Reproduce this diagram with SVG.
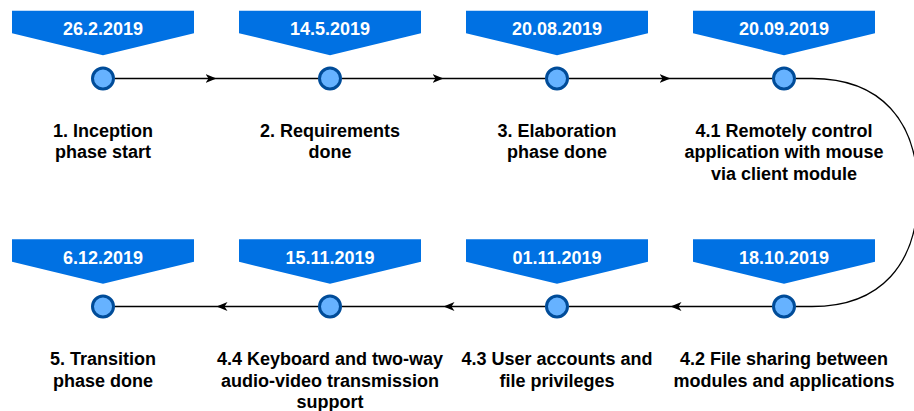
<svg xmlns="http://www.w3.org/2000/svg" width="914" height="411" viewBox="0 0 914 411">
  <defs>
    <style>
      .banner { fill: #0071E3; }
      .date { fill: #FFFFFF; font-family: "Liberation Sans", Arial, sans-serif; font-weight: bold; font-size: 18px; text-anchor: middle; }
      .dot { fill: #66B2FF; stroke: #004C99; stroke-width: 3; }
      .label { fill: #000000; font-family: "Liberation Sans", Arial, sans-serif; font-weight: bold; font-size: 18px; text-anchor: middle; }
      .edge { fill: none; stroke: #000000; stroke-width: 1.3; }
    </style>
    <marker id="arrow" markerUnits="userSpaceOnUse" markerWidth="13" markerHeight="10" refX="11" refY="4.5" orient="auto">
      <path d="M0,0 L11,4.5 L0,9 L3,4.5 Z" fill="#000000"/>
    </marker>
    <!-- milestone flag: date banner ending in a point above the dot -->
    <polygon id="flag" points="-91,0 91,0 91,22.5 0,44.5 -91,22.5"/>
  </defs>

  <g id="connectors">
    <path class="edge" d="M115,78.5 L216.5,78.5 L318,78.5" marker-mid="url(#arrow)"/>
    <path class="edge" d="M342,78.5 L443.5,78.5 L545,78.5" marker-mid="url(#arrow)"/>
    <path class="edge" d="M569,78.5 L670.5,78.5 L772,78.5" marker-mid="url(#arrow)"/>
    <path class="edge" d="M796,78.5 L812,78.5 C880,78.5 918,120 918,192.5 C918,265 880,306.5 812,306.5 L796,306.5"/>
    <path class="edge" d="M772,306.5 L670.5,306.5 L569,306.5" marker-mid="url(#arrow)"/>
    <path class="edge" d="M545,306.5 L443.5,306.5 L342,306.5" marker-mid="url(#arrow)"/>
    <path class="edge" d="M318,306.5 L216.5,306.5 L115,306.5" marker-mid="url(#arrow)"/>
  </g>

  <g id="m1">
    <use href="#flag" class="banner" x="103" y="10.7"/>
    <text class="date" x="103" y="35">26.2.2019</text>
    <circle class="dot" cx="103" cy="78.5" r="10.5"/>
    <text class="label" x="103" y="136.5">1. Inception<tspan x="103" dy="21.6">phase start</tspan></text>
  </g>
  <g id="m2">
    <use href="#flag" class="banner" x="330" y="10.7"/>
    <text class="date" x="330" y="35">14.5.2019</text>
    <circle class="dot" cx="330" cy="78.5" r="10.5"/>
    <text class="label" x="330" y="136.5">2. Requirements<tspan x="330" dy="21.6">done</tspan></text>
  </g>
  <g id="m3">
    <use href="#flag" class="banner" x="557" y="10.7"/>
    <text class="date" x="557" y="35">20.08.2019</text>
    <circle class="dot" cx="557" cy="78.5" r="10.5"/>
    <text class="label" x="557" y="136.5">3. Elaboration<tspan x="557" dy="21.6">phase done</tspan></text>
  </g>
  <g id="m41">
    <use href="#flag" class="banner" x="784" y="10.7"/>
    <text class="date" x="784" y="35">20.09.2019</text>
    <circle class="dot" cx="784" cy="78.5" r="10.5"/>
    <text class="label" x="784" y="136.5">4.1 Remotely control<tspan x="784" dy="21.6">application with mouse</tspan><tspan x="784" dy="21.6">via client module</tspan></text>
  </g>

  <g id="m42">
    <use href="#flag" class="banner" x="784" y="239.3"/>
    <text class="date" x="784" y="263.6">18.10.2019</text>
    <circle class="dot" cx="784" cy="306.5" r="10.5"/>
    <text class="label" x="784" y="365">4.2 File sharing between<tspan x="784" dy="21.6">modules and applications</tspan></text>
  </g>
  <g id="m43">
    <use href="#flag" class="banner" x="557" y="239.3"/>
    <text class="date" x="557" y="263.6">01.11.2019</text>
    <circle class="dot" cx="557" cy="306.5" r="10.5"/>
    <text class="label" x="557" y="365">4.3 User accounts and<tspan x="557" dy="21.6">file privileges</tspan></text>
  </g>
  <g id="m44">
    <use href="#flag" class="banner" x="330" y="239.3"/>
    <text class="date" x="330" y="263.6">15.11.2019</text>
    <circle class="dot" cx="330" cy="306.5" r="10.5"/>
    <text class="label" x="330" y="365">4.4 Keyboard and two-way<tspan x="330" dy="21.6">audio-video transmission</tspan><tspan x="330" dy="21.6">support</tspan></text>
  </g>
  <g id="m5">
    <use href="#flag" class="banner" x="103" y="239.3"/>
    <text class="date" x="103" y="263.6">6.12.2019</text>
    <circle class="dot" cx="103" cy="306.5" r="10.5"/>
    <text class="label" x="103" y="365">5. Transition<tspan x="103" dy="21.6">phase done</tspan></text>
  </g>
</svg>
